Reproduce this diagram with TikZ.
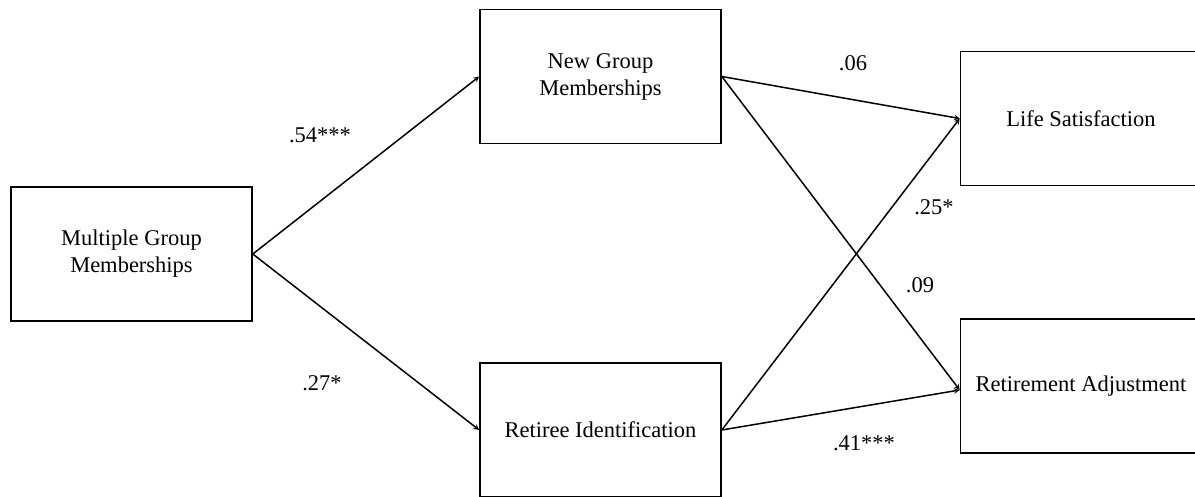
\documentclass[tikz,border=0pt]{standalone}
\usepackage{fontspec}
\setmainfont{Liberation Serif}
\usetikzlibrary{arrows}
\tikzstyle{var} = [rectangle, minimum width=241pt, minimum
  height=134pt, text centered, align=center, draw=black, line width=1.6pt,
  font=\fontsize{22.5}{27}\selectfont]
\tikzstyle{coef} = [font=\fontsize{22.5}{27}\selectfont]
\tikzstyle{arrow} = [line width=1.5pt,->,>=stealth]

\begin{document}
\begin{tikzpicture}[x=1pt, y=1pt, node distance=469pt]
\useasboundingbox (0,0) rectangle (1195,-496);

%% nodes
\node (multi) [var] at (131.5,-254) {Multiple Group\\Memberships};
\node (newGroup) [var, right of=multi, yshift=177.5pt] {New Group\\Memberships};
\node (retiree) [var, right of=multi, yshift=-176pt] {Retiree Identification};
\node (lifeSat) [var, right of=newGroup, xshift=11.5pt, yshift=-42pt]
      {Life Satisfaction};
\node (retAdjust) [var, right of=retiree, xshift=11.5pt, yshift=44pt]
      {Retirement Adjustment};

%% coefficients
\node (c54) [coef] at (320,-135) {.54***};
\node (c27) [coef] at (322,-383) {.27*};
\node (c06) [coef] at (853,-63) {.06};
\node (c25) [coef] at (934,-207) {.25*};
\node (c09) [coef] at (920,-285) {.09};
\node (c41) [coef] at (864,-443) {.41***};

%% paths
\draw [arrow] (multi.east) -- (newGroup.west);
\draw [arrow] (multi.east) -- (retiree.west);
\draw [arrow] (newGroup.east) -- (lifeSat.west);
\draw [arrow] (newGroup.east) -- ([yshift=-4pt]retAdjust.west);
\draw [arrow] (retiree.east) -- (lifeSat.west);
\draw [arrow] (retiree.east) -- ([yshift=-4pt]retAdjust.west);

\end{tikzpicture}
\end{document}
